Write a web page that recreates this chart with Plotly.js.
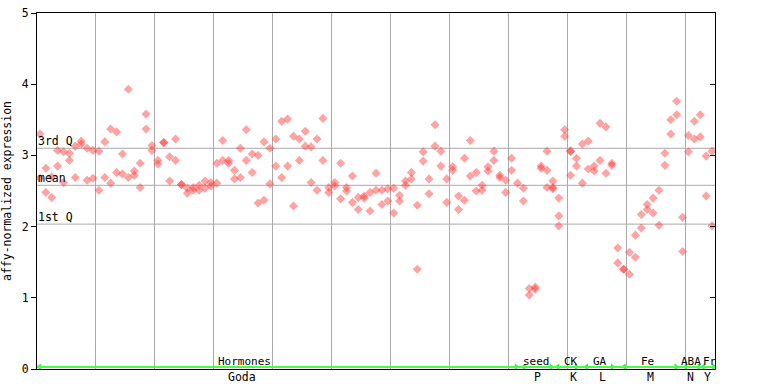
<!DOCTYPE html>
<html><head>
<script src="https://cdn.plot.ly/plotly-3.0.1.min.js"></script>
<style>body{margin:0;background:#fff}</style>
</head><body>
<div id="chart" style="width:768px;height:384px"></div>
<script>
// replicate values per sample column (index 0..114)
const rep1 = [3.30,2.82,2.70,3.07,3.05,3.03,3.13,3.20,3.10,3.07,
  3.06,3.19,3.37,3.33,3.02,3.93,2.78,2.89,3.58,3.14,
  2.93,3.18,2.98,3.23,2.59,2.54,2.55,2.58,2.64,2.62,
  2.89,3.21,2.93,2.79,3.10,3.36,3.02,3.00,3.19,3.10,
  3.23,3.48,3.51,3.27,3.23,3.34,3.12,3.23,3.52,2.55,
  2.62,2.89,2.55,2.71,2.41,2.43,2.48,2.75,2.51,2.53,
  2.54,2.44,2.64,2.76,2.30,3.05,2.67,3.43,3.06,2.67,
  2.84,2.43,2.96,3.21,2.76,2.58,2.84,3.06,2.72,2.65,
  2.96,2.61,2.54,1.13,1.15,2.85,3.06,2.64,2.40,3.36,
  3.06,2.96,3.16,3.20,2.85,3.45,3.40,2.89,1.70,1.40,
  1.64,1.88,2.17,2.31,2.40,2.51,3.03,3.50,3.76,2.13,
  3.28,3.48,3.57,2.99,3.06];
const rep2 = [2.68,2.48,2.41,2.85,2.62,2.93,2.69,3.16,2.65,2.68,
  2.51,2.69,2.61,2.76,2.74,2.69,2.72,2.55,3.37,3.07,
  2.88,3.18,2.64,2.93,2.59,2.47,2.51,2.51,2.54,2.57,
  2.61,2.93,2.89,2.67,2.69,2.93,2.76,2.33,2.37,2.60,
  2.85,2.69,2.85,2.29,2.93,3.13,2.62,2.51,2.93,2.48,
  2.57,2.39,2.50,2.34,2.24,2.40,2.22,2.51,2.31,2.36,
  2.19,2.36,2.58,2.67,1.40,2.92,2.46,3.13,2.85,2.34,
  2.79,2.24,2.37,2.71,2.50,2.51,2.78,2.93,2.69,2.48,
  2.79,null,2.36,1.04,1.12,2.82,2.79,2.55,2.15,3.27,
  3.06,2.85,2.61,2.81,2.78,2.93,2.75,2.86,1.49,1.40,
  1.33,1.57,1.98,2.24,2.19,2.02,2.86,3.30,3.57,1.65,
  3.05,3.23,3.26,2.43,2.01];
const extraIdx = [86,87,88,90];
const extraVal = [2.55,2.53,2.01,2.72];

const qLabels = ['1st Q','mean','3rd Q'];
const qValues = [2.035,2.58,3.10];

const groupTop = ['Hormones','seed','CK','GA','Fe','ABA','Fr'];
const groupBottom = ['Goda','P','K','L','M','N','Y'];
const topLabelX = [35.2,84.7,90.6,95.5,103.5,110.9,114.2];
const bottomLabelX = [34.8,84.9,91.0,95.9,104.0,110.8,113.8];
const groupStart = [0.4,82.6,88.3,93.2,99.6,110.0,113.0];
const groupEnd = [81.3,87.2,91.5,97.6,108.4,112.3,114.8];

const xs = [], ys = [];
rep1.forEach((v,i)=>{ if(v!==null){xs.push(i+0.5); ys.push(v);} });
rep2.forEach((v,i)=>{ if(v!==null){xs.push(i+0.5); ys.push(v);} });
extraIdx.forEach((i,k)=>{ xs.push(i+0.5); ys.push(extraVal[k]); });

const mono = 'DejaVu Sans Mono, monospace';
const traces = [
  {x:xs, y:ys, type:'scatter', mode:'markers', hoverinfo:'skip',
   marker:{symbol:'diamond', size:7, color:'rgba(255,50,50,0.45)', line:{width:0}}},
  {x:groupStart, y:groupStart.map(()=>0.03), type:'scatter', mode:'markers', hoverinfo:'skip',
   marker:{symbol:'triangle-left', size:6, color:'#33ee33'}},
  {x:groupEnd, y:groupEnd.map(()=>0.03), type:'scatter', mode:'markers', hoverinfo:'skip',
   marker:{symbol:'triangle-right', size:6, color:'#33ee33'}},
  {x:[0,5], y:[null,null], yaxis:'y2', type:'scatter', mode:'markers', hoverinfo:'skip', showlegend:false}
];

const shapes = qValues.map(v=>({type:'line', xref:'x', yref:'y', x0:0, x1:115, y0:v, y1:v,
  line:{color:'#aaaaaa', width:1}, layer:'below'}));
shapes.push({type:'line', xref:'x', yref:'y', x0:0, x1:115, y0:0.028, y1:0.028,
  line:{color:'#44ff44', width:2}});

const annotations = [];
qLabels.forEach((t,k)=>annotations.push({text:t, x:0, xref:'x', y:qValues[k], yref:'y',
  xanchor:'left', yanchor:'bottom', showarrow:false, font:{family:mono, size:11.5, color:'#000'},
  borderpad:0, yshift:-1}));
groupTop.forEach((t,k)=>annotations.push({text:t, x:topLabelX[k], xref:'x', y:0, yref:'y',
  xanchor:'center', yanchor:'middle', yshift:8, showarrow:false, borderpad:0,
  font:{family:mono, size:11, color:'#000'}}));
groupBottom.forEach((t,k)=>annotations.push({text:t, x:bottomLabelX[k], xref:'x', y:0, yref:'y',
  xanchor:'center', yanchor:'middle', yshift:-8, showarrow:false, borderpad:0,
  font:{family:mono, size:11.5, color:'#000'}}));

const layout = {
  width:768, height:384, showlegend:false,
  margin:{l:37, r:53, t:13, b:15, pad:0},
  paper_bgcolor:'#fff', plot_bgcolor:'#fff',
  font:{family:mono, size:11.5, color:'#000'},
  xaxis:{range:[0,115], tick0:0, dtick:10, showgrid:true, gridcolor:'#aaaaaa', gridwidth:1,
    showticklabels:false, ticks:'', zeroline:false, showline:true, linecolor:'#000', linewidth:1, mirror:true,
    fixedrange:true},
  yaxis:{range:[0,5], tickvals:[0,1,2,3,4,5], ticktext:['0','1','2','3','4','5'], ticks:'outside', ticklen:5,
    tickcolor:'#000', showgrid:false, zeroline:false, showline:true, linecolor:'#000', linewidth:1, mirror:true,
    title:{text:'affy-normalized expression', font:{family:mono, size:11.5}, standoff:8},
    tickfont:{family:mono, size:11.5}, fixedrange:true},
  yaxis2:{range:[0,5], overlaying:'y', side:'right', tickvals:[1,2,3,4], ticks:'inside', ticklen:5,
    tickcolor:'#000', showticklabels:false, showgrid:false, zeroline:false, showline:false, fixedrange:true},
  shapes:shapes, annotations:annotations
};
Plotly.newPlot('chart', traces, layout, {staticPlot:true, displayModeBar:false});
</script>
</body></html>
